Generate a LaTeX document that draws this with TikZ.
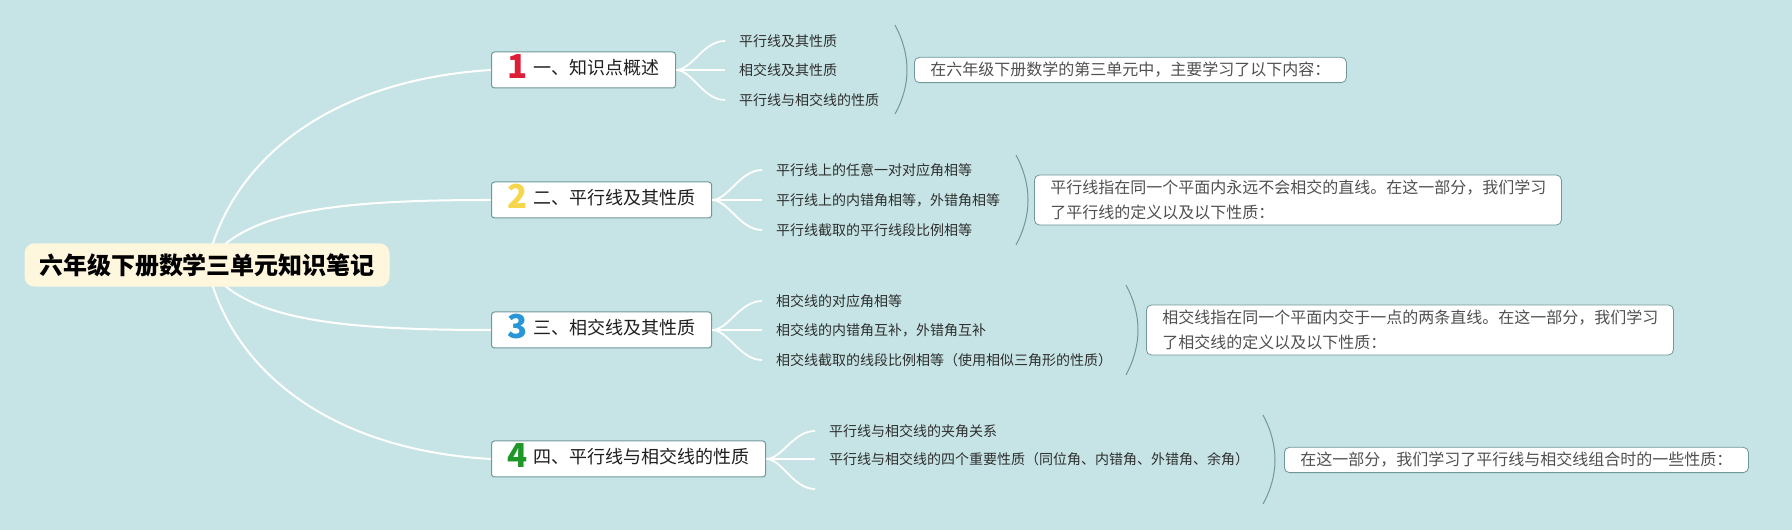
\documentclass[tikz,border=0pt]{standalone}
\usepackage{fontspec}
\setmainfont{Noto Sans CJK SC}
\usepackage{xcolor}
\usepackage{tikz}
\usetikzlibrary{positioning}
\definecolor{bgteal}{RGB}{198,228,229}
\definecolor{rootcream}{RGB}{255,246,222}
\definecolor{boxline}{RGB}{112,152,154}
\definecolor{notetext}{RGB}{80,80,80}
\definecolor{numred}{RGB}{222,30,55}
\definecolor{numyellow}{RGB}{246,214,76}
\definecolor{numblue}{RGB}{40,150,215}
\definecolor{numgreen}{RGB}{30,150,40}
\newcommand{\numtag}[2]{\raisebox{-4pt}{\fontsize{33}{33}\selectfont\bfseries\color{#1}#2}\hspace{6pt}}
\pgfdeclarelayer{canvas}
\pgfdeclarelayer{links}
\pgfsetlayers{canvas,links,main}

\begin{document}
\begin{tikzpicture}[x=1pt,y=1pt,
    root/.style={fill=rootcream, rounded corners=10pt, inner xsep=14.5pt, inner ysep=10pt,
      font=\fontsize{24}{29}\selectfont\bfseries},
    topic/.style={draw=boxline, line width=1pt, fill=white, rounded corners=3pt, anchor=west,
      inner xsep=16pt, inner ysep=9pt, text height=14pt, text depth=4pt,
      font=\fontsize{18}{22}\selectfont, text=black!88},
    leaf/.style={anchor=west, inner xsep=14pt, inner ysep=2pt,
      font=\fontsize{14}{17}\selectfont, text=black!82},
    note/.style={draw=boxline, line width=0.8pt, fill=white, rounded corners=5pt, anchor=west,
      inner xsep=16pt, inner ysep=5pt, align=left,
      font=\fontsize{16}{25}\selectfont, text=notetext},
    branch/.style={white, line width=2pt},
    twig/.style={white, line width=1.8pt},
    brace/.style={boxline, line width=1pt}]
			% canvas
			\begin{pgfonlayer}{canvas}
			\fill[bgteal] (0,0) rectangle (1792,530);
			\end{pgfonlayer}
			\useasboundingbox (0,0) rectangle (1792,530);
			
			% root
			\node[root] (root) at (207,265) {六年级下册数学三单元知识笔记};
			
			% topics
			\node[topic] (t1) at (491,460) {\numtag{numred}{1}一、知识点概述};
			\node[topic] (t2) at (491,330) {\numtag{numyellow}{2}二、平行线及其性质};
			\node[topic] (t3) at (491,200) {\numtag{numblue}{3}三、相交线及其性质};
			\node[topic] (t4) at (491,71) {\numtag{numgreen}{4}四、平行线与相交线的性质};
			
			% leaves 1
			\node[leaf] (t1a) at (725,489) {平行线及其性质};
			\node[leaf] (t1b) at (725,460) {相交线及其性质};
			\node[leaf] (t1c) at (725,430) {平行线与相交线的性质};
			
			% leaves 2
			\node[leaf] (t2a) at (762,360) {平行线上的任意一对对应角相等};
			\node[leaf] (t2b) at (762,330) {平行线上的内错角相等，外错角相等};
			\node[leaf] (t2c) at (762,300) {平行线截取的平行线段比例相等};
			
			% leaves 3
			\node[leaf] (t3a) at (762,229) {相交线的对应角相等};
			\node[leaf] (t3b) at (762,200) {相交线的内错角互补，外错角互补};
			\node[leaf] (t3c) at (762,170) {相交线截取的线段比例相等（使用相似三角形的性质）};
			
			% leaves 4
			\node[leaf] (t4a) at (815,99) {平行线与相交线的夹角关系};
			\node[leaf] (t4b) at (815,71) {平行线与相交线的四个重要性质（同位角、内错角、外错角、余角）};
			\coordinate (t4c) at (815,41);
			
			% notes
			\node[note] (n1) at (914,460) {在六年级下册数学的第三单元中，主要学习了以下内容：};
			\node[note, text width=495pt] (n2) at (1034,330) {平行线指在同一个平面内永远不会相交的直线。在这一部分，我们学习\\了平行线的定义以及以下性质：};
			\node[note, text width=495pt] (n3) at (1146,200) {相交线指在同一个平面内交于一点的两条直线。在这一部分，我们学习\\了相交线的定义以及以下性质：};
			\node[note] (n4) at (1284,70) {在这一部分，我们学习了平行线与相交线组合时的一些性质：};
			
			% brackets
			\draw[brace] (895,505) .. controls (911,475) and (911,445) .. (895,416);
			\draw[brace] (1016,375) .. controls (1032,345) and (1032,315) .. (1016,285);
			\draw[brace] (1126,245) .. controls (1142,215) and (1142,185) .. (1126,155);
			\draw[brace] (1263,115) .. controls (1279,85) and (1279,55) .. (1263,26);
			
			% links
			\begin{pgfonlayer}{links}
			\draw[branch] (root.center) .. controls (230,370) and (330,450) .. (t1.west);
			\draw[branch] (root.center) .. controls (240,320) and (340,330) .. (t2.west);
			\draw[branch] (root.center) .. controls (240,210) and (340,200) .. (t3.west);
			\draw[branch] (root.center) .. controls (230,160) and (330,80) .. (t4.west);
			\end{pgfonlayer}
			
			\draw[twig] (t1.east) .. controls +(16,0) and +(-22,0) .. (t1a.west);
			\draw[twig] (t1.east) -- (t1b.west);
			\draw[twig] (t1.east) .. controls +(16,0) and +(-22,0) .. (t1c.west);
			
			\draw[twig] (t2.east) .. controls +(16,0) and +(-22,0) .. (t2a.west);
			\draw[twig] (t2.east) -- (t2b.west);
			\draw[twig] (t2.east) .. controls +(16,0) and +(-22,0) .. (t2c.west);
			
			\draw[twig] (t3.east) .. controls +(16,0) and +(-22,0) .. (t3a.west);
			\draw[twig] (t3.east) -- (t3b.west);
			\draw[twig] (t3.east) .. controls +(16,0) and +(-22,0) .. (t3c.west);
			
			\draw[twig] (t4.east) .. controls +(16,0) and +(-22,0) .. (t4a.west);
			\draw[twig] (t4.east) -- (t4b.west);
			\draw[twig] (t4.east) .. controls +(16,0) and +(-22,0) .. (t4c);
		\end{tikzpicture}
\end{document}
